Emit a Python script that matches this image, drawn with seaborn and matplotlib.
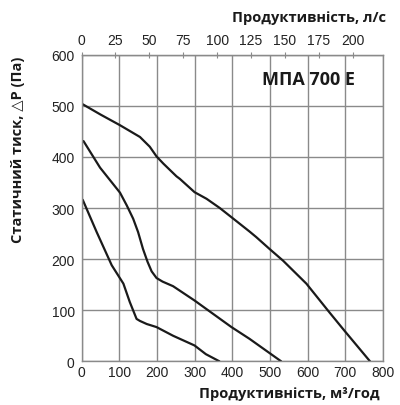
import numpy as np
import matplotlib
matplotlib.use("Agg")
import matplotlib.pyplot as plt
import pandas as pd
import seaborn as sns

# values (flow m3/h, static pressure Pa)
top_q = [3, 50, 102, 155, 181, 199, 217, 252, 261, 300, 332, 367, 398, 446, 464, 499, 535, 597, 658, 698, 766]
top_p = [503, 483, 462, 439, 420, 401, 387, 362, 357, 331, 318, 300, 282, 254, 243, 220, 197, 152, 96, 60, 0]

mid_q = [5, 49, 102, 120, 137, 150, 163, 175, 186, 199, 215, 243, 300, 398, 446, 530]
mid_p = [431, 379, 330, 305, 279, 253, 220, 195, 176, 163, 156, 147, 119, 67, 44, 0]

bot_q = [3, 40, 80, 111, 128, 146, 155, 173, 199, 243, 300, 330, 366]
bot_p = [316, 253, 188, 152, 116, 83, 79, 73, 67, 50, 31, 14, 0]

x_ticks = [0, 100, 200, 300, 400, 500, 600, 700, 800]
y_ticks = [0, 100, 200, 300, 400, 500, 600]
top_ticks = [0, 25, 50, 75, 100, 125, 150, 175, 200]

title = "МПА 700 Е"
xlabel = "Продуктивність, м³/год"
toplabel = "Продуктивність, л/с"
ylabel = "Статичний тиск, △P (Па)"

sns.set_style("white")
plt.rcParams['font.family'] = ['Liberation Sans', 'DejaVu Sans']
bold_font = ['Open Sans', 'DejaVu Sans']
grey = "#8a8a8a"
ink = "#1a1a1a"

fig = plt.figure(figsize=(4, 4.06), dpi=100)
ax = fig.add_axes([0.204, 0.1076, 0.753, 0.7552])

for q, p in [(top_q, top_p), (mid_q, mid_p), (bot_q, bot_p)]:
    df = pd.DataFrame({"q": q, "p": p})
    sns.lineplot(data=df, x="q", y="p", sort=False, color=ink, linewidth=1.6, ax=ax)

ax.set_xlim(0, 800)
ax.set_ylim(0, 600)
ax.set_xticks(x_ticks)
ax.set_yticks(y_ticks)
ax.grid(True, color=grey, linewidth=1)
ax.set_axisbelow(True)
for s in ax.spines.values():
    s.set_color(grey)
    s.set_linewidth(1)
ax.tick_params(axis="both", direction="inout", length=6, color=grey,
               labelsize=10, labelcolor="#222222", pad=2)
ax.tick_params(axis="x", length=4, pad=1)
ax.set_xlabel("")
ax.set_ylabel("")

# axis titles
fig.text(380 / 400, 1 - 394 / 406, xlabel, ha="right", va="center",
         fontsize=10.5, fontweight="bold", family=bold_font, color=ink)
fig.text(386 / 400, 1 - 18 / 406, toplabel, ha="right", va="center",
         fontsize=10.5, fontweight="bold", family=bold_font, color=ink)
fig.text(18 / 400, 1 - 150 / 406, ylabel, ha="center", va="center", rotation=90,
         fontsize=10.5, fontweight="bold", family=bold_font, color=ink)

sec = ax.secondary_xaxis("top", functions=(lambda v: v / 3.6, lambda v: v * 3.6))
sec.set_xticks(top_ticks)
sec.tick_params(direction="inout", length=5, color=grey, labelsize=10,
                labelcolor="#222222", pad=3)
sec.spines["top"].set_color(grey)

ax.text(0.908, 0.921, title, transform=ax.transAxes, ha="right", va="center",
        fontsize=13, fontweight="bold", family=bold_font, color=ink)

fig.savefig("out.png", dpi=100)
